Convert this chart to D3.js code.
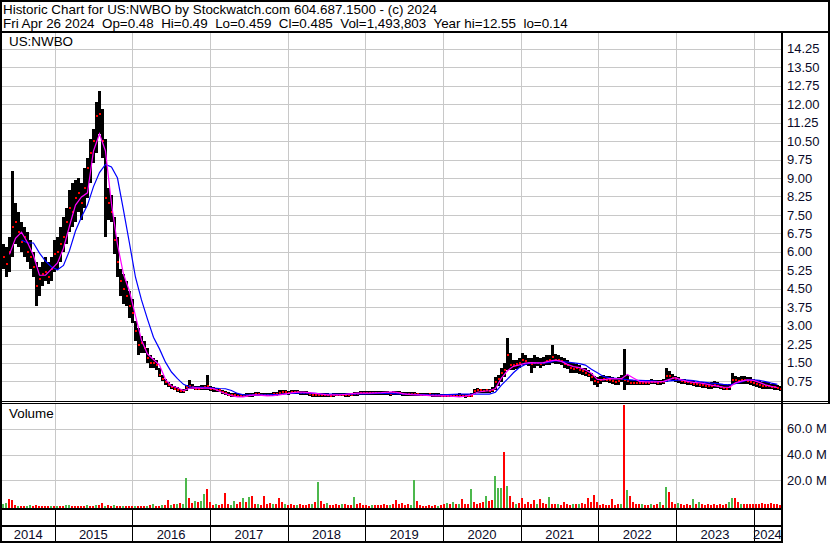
<!DOCTYPE html>
<html><head><meta charset="utf-8">
<script src="https://cdn.jsdelivr.net/npm/d3@7"></script>
<style>
body{margin:0;background:#fff}
svg{display:block}
text{font-family:"Liberation Sans",Arial,sans-serif;white-space:pre}
</style>
</head><body>
<svg id="c" width="830" height="543"></svg>
<script>
const titleLine1 = "Historic Chart for US:NWBO by Stockwatch.com 604.687.1500 - (c) 2024";
const titleLine2 = "Fri Apr 26 2024  Op=0.48  Hi=0.49  Lo=0.459  Cl=0.485  Vol=1,493,803  Year hi=12.55  lo=0.14";
const symbolLabel = "US:NWBO";
const volumeLabel = "Volume";
const yearLabels = [2014,2015,2016,2017,2018,2019,2020,2021,2022,2023,2024];
const priceTicks = [0.75,1.5,2.25,3,3.75,4.5,5.25,6,6.75,7.5,8.25,9,9.75,10.5,11.25,12,12.75,13.5,14.25];
const volumeTicks = [20,40,60]; // millions
const firstBarDate = new Date(2014,3,29);
const barDays = 14.1;

const high = [
6.3,6.2,6.6,9.3,8.0,7.6,7.2,7.0,6.8,6.5,
6.0,5.6,5.4,5.6,5.8,5.6,5.8,6.5,6.6,7.0,
7.4,7.8,8.5,8.8,8.9,9.0,8.8,9.4,9.8,10.6,
11.0,12.1,12.55,11.8,10.6,8.6,8.3,7.4,6.6,5.3,
5.1,4.8,4.4,4.1,3.2,2.9,2.6,2.4,2.1,1.8,
1.7,1.6,1.3,1.0,0.85,0.7,0.62,0.55,0.5,0.45,
0.42,0.6,0.78,0.62,0.55,0.55,0.58,0.6,1.0,0.55,
0.5,0.48,0.45,0.38,0.35,0.3,0.27,0.27,0.25,0.24,
0.24,0.25,0.26,0.28,0.3,0.3,0.28,0.28,0.27,0.28,
0.3,0.32,0.4,0.38,0.38,0.36,0.38,0.4,0.38,0.36,
0.36,0.34,0.32,0.28,0.27,0.26,0.26,0.25,0.25,0.24,
0.26,0.28,0.28,0.27,0.26,0.27,0.28,0.3,0.32,0.34,
0.35,0.34,0.35,0.36,0.34,0.35,0.36,0.34,0.33,0.32,
0.34,0.35,0.34,0.32,0.31,0.32,0.3,0.3,0.28,0.28,
0.27,0.28,0.28,0.27,0.26,0.25,0.24,0.24,0.23,0.24,
0.23,0.24,0.26,0.24,0.23,0.24,0.25,0.45,0.47,0.45,
0.45,0.45,0.45,0.5,0.9,1.0,1.3,1.5,2.5,1.9,
1.6,1.6,1.7,1.9,1.8,1.7,1.7,1.8,1.75,1.7,
1.75,1.8,1.8,2.2,1.85,1.8,1.75,1.7,1.6,1.5,
1.5,1.45,1.4,1.3,1.3,1.2,1.1,0.95,0.9,0.95,
1.0,0.95,0.95,0.9,0.85,0.9,1.0,2.05,1.0,0.8,
0.8,0.78,0.8,0.8,0.78,0.8,0.82,0.8,0.78,0.8,
0.85,1.28,1.15,1.05,0.95,0.9,0.85,0.82,0.8,0.8,
0.75,0.72,0.7,0.7,0.68,0.68,0.7,0.75,0.7,0.65,
0.62,0.58,0.62,1.08,0.95,0.9,0.95,0.95,0.92,0.9,
0.85,0.8,0.75,0.72,0.7,0.7,0.65,0.62,0.6,0.55];

const low = [
5.3,5.0,5.2,5.8,6.3,6.2,6.0,5.8,5.6,5.3,
5.0,3.8,4.2,4.6,4.8,4.7,4.8,5.2,5.3,5.6,
6.0,6.3,6.8,7.0,7.2,7.6,7.3,7.8,8.2,8.8,
9.6,10.0,10.8,9.8,6.6,7.3,7.2,5.9,5.0,4.2,
3.9,3.8,3.3,3.1,2.4,1.8,1.9,1.9,1.5,1.3,
1.3,1.2,0.9,0.75,0.6,0.5,0.45,0.4,0.32,0.28,
0.27,0.35,0.45,0.42,0.38,0.38,0.38,0.4,0.4,0.35,
0.32,0.32,0.3,0.22,0.2,0.15,0.12,0.12,0.1,0.1,
0.1,0.1,0.11,0.12,0.14,0.15,0.14,0.13,0.13,0.14,
0.15,0.16,0.18,0.2,0.22,0.2,0.22,0.24,0.22,0.2,
0.2,0.18,0.16,0.12,0.12,0.11,0.11,0.1,0.1,0.1,
0.12,0.13,0.14,0.13,0.12,0.12,0.13,0.14,0.16,0.18,
0.2,0.19,0.2,0.2,0.19,0.2,0.2,0.18,0.17,0.16,
0.18,0.18,0.18,0.16,0.15,0.16,0.15,0.14,0.14,0.13,
0.13,0.13,0.14,0.12,0.12,0.1,0.1,0.09,0.09,0.1,
0.09,0.09,0.1,0.09,0.08,0.09,0.1,0.22,0.27,0.27,
0.27,0.27,0.26,0.3,0.4,0.55,0.7,0.9,1.2,1.2,
1.2,1.25,1.3,1.4,1.4,1.35,1.1,1.3,1.35,1.3,
1.35,1.4,1.4,1.5,1.45,1.45,1.4,1.3,1.25,1.1,
1.1,1.1,1.05,1.0,0.95,0.9,0.75,0.6,0.5,0.65,
0.7,0.7,0.68,0.65,0.6,0.6,0.7,0.4,0.6,0.6,
0.6,0.58,0.6,0.6,0.58,0.6,0.62,0.62,0.6,0.6,
0.62,0.7,0.8,0.75,0.7,0.68,0.65,0.62,0.6,0.58,
0.55,0.52,0.5,0.48,0.48,0.45,0.45,0.48,0.46,0.42,
0.4,0.38,0.38,0.6,0.65,0.62,0.65,0.65,0.62,0.6,
0.55,0.5,0.48,0.45,0.45,0.45,0.42,0.4,0.38,0.36];

const close = [
5.8,5.5,6.0,7.0,7.2,6.8,6.4,6.6,6.0,5.8,
5.4,4.6,4.9,5.1,5.2,5.0,5.3,5.9,6.0,6.3,
6.6,7.2,7.8,7.6,8.2,8.4,8.0,8.6,9.4,10.0,
10.5,11.5,11.6,10.5,8.2,8.0,7.6,6.5,5.6,4.8,
4.5,4.2,3.8,3.5,2.8,2.2,2.3,2.1,1.7,1.5,
1.5,1.4,1.0,0.85,0.7,0.6,0.52,0.45,0.4,0.35,
0.33,0.5,0.55,0.5,0.45,0.45,0.48,0.5,0.55,0.45,
0.42,0.4,0.38,0.3,0.25,0.2,0.18,0.18,0.16,0.15,
0.15,0.16,0.17,0.2,0.22,0.22,0.2,0.2,0.19,0.2,
0.22,0.24,0.28,0.3,0.3,0.28,0.3,0.32,0.3,0.28,
0.27,0.25,0.23,0.2,0.19,0.18,0.18,0.17,0.17,0.16,
0.18,0.2,0.2,0.19,0.18,0.19,0.2,0.22,0.24,0.26,
0.27,0.27,0.28,0.28,0.27,0.27,0.28,0.26,0.25,0.24,
0.26,0.27,0.26,0.24,0.23,0.24,0.22,0.22,0.21,0.2,
0.2,0.2,0.21,0.19,0.18,0.17,0.16,0.15,0.15,0.16,
0.15,0.15,0.16,0.15,0.14,0.15,0.16,0.35,0.38,0.37,
0.36,0.37,0.36,0.4,0.7,0.85,1.1,1.2,1.8,1.4,
1.4,1.45,1.5,1.6,1.55,1.5,1.45,1.5,1.5,1.45,
1.5,1.55,1.6,1.75,1.6,1.6,1.55,1.45,1.4,1.3,
1.25,1.3,1.2,1.15,1.1,1.0,0.9,0.75,0.7,0.8,
0.85,0.8,0.8,0.75,0.72,0.75,0.85,0.8,0.75,0.68,
0.68,0.66,0.68,0.68,0.66,0.68,0.7,0.7,0.68,0.7,
0.72,0.95,0.95,0.88,0.82,0.78,0.75,0.72,0.7,0.68,
0.65,0.62,0.6,0.58,0.56,0.55,0.55,0.58,0.55,0.5,
0.48,0.45,0.5,0.8,0.8,0.75,0.78,0.78,0.75,0.72,
0.68,0.62,0.58,0.55,0.55,0.55,0.52,0.5,0.48,0.45];

// volume in millions of shares, one value per bar
const volume = [
1.5,2.5,5.5,5.0,1.0,0.5,0.3,0.4,0.2,0.8,
0.3,0.6,0.3,0.4,0.2,0.1,0.3,0.2,0.5,0.3,
0.3,0.8,0.6,0.3,0.2,0.4,0.3,0.2,0.7,0.4,
0.3,0.9,0.6,2.8,0.5,0.8,0.2,0.7,0.2,0.3,
0.5,0.3,0.4,0.3,0.5,0.2,0.5,0.3,0.4,0.8,
2.0,0.3,0.5,0.8,1.0,4.6,1.2,2.0,1.5,2.5,
1.8,21.5,6.7,2.5,4.0,3.0,4.0,9.5,13.5,3.0,
1.0,1.5,1.2,1.5,10,2.0,1.2,4.0,2.0,3.0,
6.5,3.4,7.5,8.0,1.5,2.0,1.0,8.0,1.5,2.5,
1.5,2.0,6.5,3.0,2.0,1.0,1.5,1.2,1.0,1.5,
0.8,1.0,2.0,1.5,3.0,18.5,4.0,1.5,2.5,1.0,
0.8,1.5,1.0,1.5,2.0,1.0,1.2,7.0,2.0,2.5,
1.0,0.8,0.5,1.2,0.8,1.0,0.8,1.5,1.0,1.2,
1.5,4.5,2.0,2.5,1.0,1.5,1.0,20.0,4.0,1.0,
0.5,0.4,0.8,0.3,0.6,0.5,1.0,1.5,2.5,2.0,
3.0,2.0,1.5,5.4,2.0,1.5,13.4,3.0,2.0,2.5,
3.0,8.0,4.0,5.0,23.0,13.7,13.7,42.0,16.0,7.7,
3.0,2.0,2.5,6.0,2.0,3.0,2.0,4.5,2.0,5.4,
2.5,2.0,7.2,2.0,1.5,1.5,1.0,3.0,1.5,1.0,
1.5,2.0,1.5,2.5,1.5,6.5,3.0,9.0,3.0,1.0,
1.5,1.0,1.0,5.4,1.0,1.5,2.0,78,12.4,7.7,
3.0,1.5,1.5,2.0,1.0,1.0,1.5,1.0,1.5,3.0,
1.0,14.7,11.0,3.0,2.0,2.5,1.5,1.0,1.5,1.0,
5.4,1.5,3.0,1.5,1.0,1.5,1.0,1.5,1.0,1.5,
1.0,2.0,3.0,6.7,6.0,3.0,2.0,1.5,2.0,1.5,
2.0,1.5,2.0,2.5,1.5,2.0,2.5,1.5,1.5,1.0];

// g = up (green), r = down (red)
const volumeDirection =
"ggrrrgrrgg"+"rrrrrrgrgr"+"rggrrrrrgr"+"rgrrgrrgrr"+"grrrgrrrgr"+
"grrgrrgrgr"+"ggrrgrggrr"+"rgrrrrggrr"+"grgrrgrrrr"+"grrrgrrrgr"+
"rrrgrgrrgr"+"rrrgrrrgrr"+"rrrgrrrrrg"+"rrrrrrggrr"+"rrrrrgrrgr"+
"grgrrrgrrr"+"rgrrgggrgr"+"rgrrrrrrgr"+"rrgrrgrrrr"+"grgrrrrrrr"+
"rrrrrrgrgr"+"rrrgrrgrrg"+"rgrrrgrrrr"+"grgrrrrrrr"+"rrggrrgrrr"+
"rrrrrrrrrr";

// short moving average (magenta): every 2nd bar starting at bar 2
const maShortStart = 2;
const maShort = [
5.9,6.55,6.8,6.38,5.85,5.05,5.05,5.3,5.55,6.15,
7.05,7.9,8.23,8.4,10.1,10.8,10.1,7.96,6.3,5.1,
4.4,3.4,2.42,1.85,1.63,1.4,0.82,0.55,0.48,0.37,
0.46,0.48,0.47,0.47,0.45,0.34,0.24,0.16,0.11,0.11,
0.16,0.19,0.17,0.15,0.16,0.19,0.23,0.27,0.3,0.3,
0.28,0.25,0.22,0.19,0.19,0.19,0.21,0.24,0.26,0.26,
0.26,0.27,0.28,0.3,0.31,0.27,0.22,0.2,0.19,0.18,
0.16,0.15,0.15,0.15,0.13,0.11,0.14,0.19,0.3,0.34,
0.36,0.45,0.87,1.17,1.35,1.41,1.48,1.5,1.49,1.5,
1.56,1.6,1.55,1.43,1.34,1.3,1.2,1.07,0.82,0.8,
0.85,0.84,0.85,1.02,0.88,0.74,0.72,0.72,0.72,0.74,
0.82,0.89,0.8,0.74,0.7,0.68,0.64,0.59,0.55,0.51,
0.5,0.68,0.75,0.8,0.78,0.7,0.6,0.54,0.49];

// long moving average (blue): every 2nd bar starting at bar 6
const maLongStart = 6;
const maLong = [
6.48,6.36,6.36,5.95,5.63,5.39,5.27,5.45,6.05,6.85,
7.42,7.9,8.65,9.22,9.55,9.45,9.0,7.7,6.35,4.97,
4.05,3.27,2.53,2.06,1.52,1.12,0.85,0.62,0.52,0.5,
0.5,0.49,0.47,0.45,0.44,0.37,0.25,0.19,0.19,0.19,
0.19,0.19,0.2,0.21,0.23,0.25,0.26,0.26,0.26,0.25,
0.23,0.22,0.22,0.21,0.22,0.22,0.23,0.23,0.24,0.25,
0.26,0.25,0.24,0.23,0.22,0.21,0.2,0.2,0.19,0.19,
0.19,0.2,0.21,0.22,0.22,0.22,0.22,0.22,0.22,0.3,
0.59,0.83,1.09,1.3,1.43,1.5,1.49,1.48,1.51,1.58,
1.55,1.52,1.49,1.46,1.4,1.23,1.09,0.94,0.88,0.86,
0.84,0.81,0.79,0.78,0.77,0.76,0.74,0.73,0.76,0.78,
0.8,0.79,0.77,0.73,0.7,0.67,0.65,0.62,0.6,0.65,
0.72,0.8,0.8,0.78,0.73,0.67,0.62];

// ---------------- drawing ----------------
const svg = d3.select("#c");
const W = 830, H = 543;
const L = 2, R = 781;
const pTop = 32, pBot = 401;
const vTop = 403, vBot = 508;
const gridColor = "#c8c8c8";
const labelColor = "#0a0a28";

const barDate = i => new Date(firstBarDate.getTime() + i * barDays * 864e5);
const bars = high.map((h, i) => ({
  date: barDate(i), hi: h, lo: low[i], cl: close[i],
  vol: volume[i], up: volumeDirection[i] === "g"
}));

const x = d3.scaleTime().domain([new Date(2014,3,29), new Date(2024,4,8)]).range([L, R]);
const y = d3.scaleLinear().domain([0, 15]).range([399.6, 30.3]);
const yv = d3.scaleLinear().domain([0, 80]).range([506.2, 402.8]);

svg.append("rect").attr("width", W).attr("height", H).attr("fill", "#fff");

const defs = svg.append("defs");
defs.append("clipPath").attr("id","cp").append("rect").attr("x",L).attr("y",pTop).attr("width",R-L).attr("height",pBot-pTop);
defs.append("clipPath").attr("id","cv").append("rect").attr("x",L).attr("y",vTop+1).attr("width",R-L).attr("height",vBot-vTop-1);

const yearStarts = yearLabels.slice(1).map(yr => new Date(yr,0,1));

// gridlines
const grid = svg.append("g").attr("shape-rendering","crispEdges");
grid.selectAll("line.hp").data(priceTicks).join("line")
  .attr("x1", L).attr("x2", R).attr("y1", d => Math.round(y(d))+0.5).attr("y2", d => Math.round(y(d))+0.5)
  .attr("stroke", gridColor);
grid.selectAll("line.hv").data(volumeTicks).join("line")
  .attr("x1", L).attr("x2", R).attr("y1", d => Math.round(yv(d))+0.5).attr("y2", d => Math.round(yv(d))+0.5)
  .attr("stroke", gridColor);
grid.selectAll("line.vp").data(yearStarts).join("line")
  .attr("x1", d => Math.round(x(d))+0.5).attr("x2", d => Math.round(x(d))+0.5)
  .attr("y1", pTop).attr("y2", pBot).attr("stroke", gridColor);
grid.selectAll("line.vv").data(yearStarts).join("line")
  .attr("x1", d => Math.round(x(d))+0.5).attr("x2", d => Math.round(x(d))+0.5)
  .attr("y1", vTop).attr("y2", vBot).attr("stroke", gridColor);

// price bars
const pg = svg.append("g").attr("clip-path","url(#cp)").attr("shape-rendering","crispEdges");
pg.selectAll("rect.b").data(bars).join("rect")
  .attr("x", d => Math.round(x(d.date)))
  .attr("width", 3)
  .attr("y", d => Math.round(y(d.hi)))
  .attr("height", d => Math.max(2, Math.round(y(d.lo)) - Math.round(y(d.hi))))
  .attr("fill", "#000");
pg.selectAll("rect.c").data(bars).join("rect")
  .attr("x", d => Math.round(x(d.date)) + 1)
  .attr("width", 2)
  .attr("y", d => Math.round(y(d.cl)) - 1)
  .attr("height", 2)
  .attr("fill", "#ff0000");

// moving averages
const lineGen = d3.line().x(d => x(d.date) + 1.5).y(d => y(d.v));
const shortPts = maShort.map((v, k) => ({date: barDate(maShortStart + 2*k), v}));
const longPts = maLong.map((v, k) => ({date: barDate(maLongStart + 2*k), v}));
const lg = svg.append("g").attr("clip-path","url(#cp)");
lg.append("path").datum(longPts).attr("d", lineGen).attr("fill","none").attr("stroke","#0000ff").attr("stroke-width",1.2);
lg.append("path").datum(shortPts).attr("d", lineGen).attr("fill","none").attr("stroke","#ff00ff").attr("stroke-width",1.2);

// volume bars
const vg = svg.append("g").attr("clip-path","url(#cv)").attr("shape-rendering","crispEdges");
vg.selectAll("rect").data(bars).join("rect")
  .attr("x", d => Math.round(x(d.date)))
  .attr("width", 2)
  .attr("y", d => Math.round(yv(d.vol)))
  .attr("height", d => vBot - Math.round(yv(d.vol)))
  .attr("fill", d => d.up ? "#4cb84c" : "#ff0000");

// frame lines
const frame = svg.append("g").attr("fill","#000").attr("shape-rendering","crispEdges");
frame.append("rect").attr("x",0).attr("y",0).attr("width",W).attr("height",2);
frame.append("rect").attr("x",0).attr("y",31).attr("width",W).attr("height",2);
frame.append("rect").attr("x",0).attr("y",0).attr("width",2).attr("height",H);
frame.append("rect").attr("x",828).attr("y",0).attr("width",2).attr("height",403);
frame.append("rect").attr("x",781).attr("y",31).attr("width",2).attr("height",H-31);
frame.append("rect").attr("x",0).attr("y",401).attr("width",W).attr("height",1);
frame.append("rect").attr("x",0).attr("y",403).attr("width",W).attr("height",1);
frame.append("rect").attr("x",0).attr("y",508).attr("width",783).attr("height",2);
frame.append("rect").attr("x",0).attr("y",525).attr("width",783).attr("height",2);
frame.append("rect").attr("x",0).attr("y",541).attr("width",783).attr("height",2);
frame.selectAll("rect.ys").data(yearStarts).join("rect")
  .attr("x", d => Math.round(x(d))).attr("y", 510).attr("width", 1).attr("height", 31);

// texts
svg.append("text").attr("x",3).attr("y",14).attr("font-size","13.4px").attr("fill","#000").text(titleLine1);
svg.append("text").attr("x",3).attr("y",28).attr("font-size","13.4px").attr("fill","#000").text(titleLine2);
svg.append("text").attr("x",9).attr("y",46).attr("font-size","13.4px").attr("fill","#000").text(symbolLabel);
svg.append("text").attr("x",9).attr("y",418).attr("font-size","13.4px").attr("fill","#000").text(volumeLabel);

svg.append("g").selectAll("text").data(priceTicks).join("text")
  .attr("x", 787).attr("y", d => y(d)).attr("dy","0.35em")
  .attr("font-size","13px").attr("fill",labelColor)
  .text(d => d3.format(".2f")(d));
svg.append("g").selectAll("text").data(volumeTicks).join("text")
  .attr("x", 787).attr("y", d => yv(d)).attr("dy","0.35em")
  .attr("font-size","13px").attr("fill",labelColor)
  .text(d => d3.format(".1f")(d) + " M");

const yearBounds = [x.range()[0], ...yearStarts.map(d => x(d)), x.range()[1]];
svg.append("g").selectAll("text").data(yearLabels).join("text")
  .attr("x", (d,i) => (yearBounds[i] + yearBounds[i+1]) / 2)
  .attr("y", 539).attr("text-anchor","middle")
  .attr("font-size","13px").attr("fill",labelColor)
  .text(d => d);
</script>
</body></html>
